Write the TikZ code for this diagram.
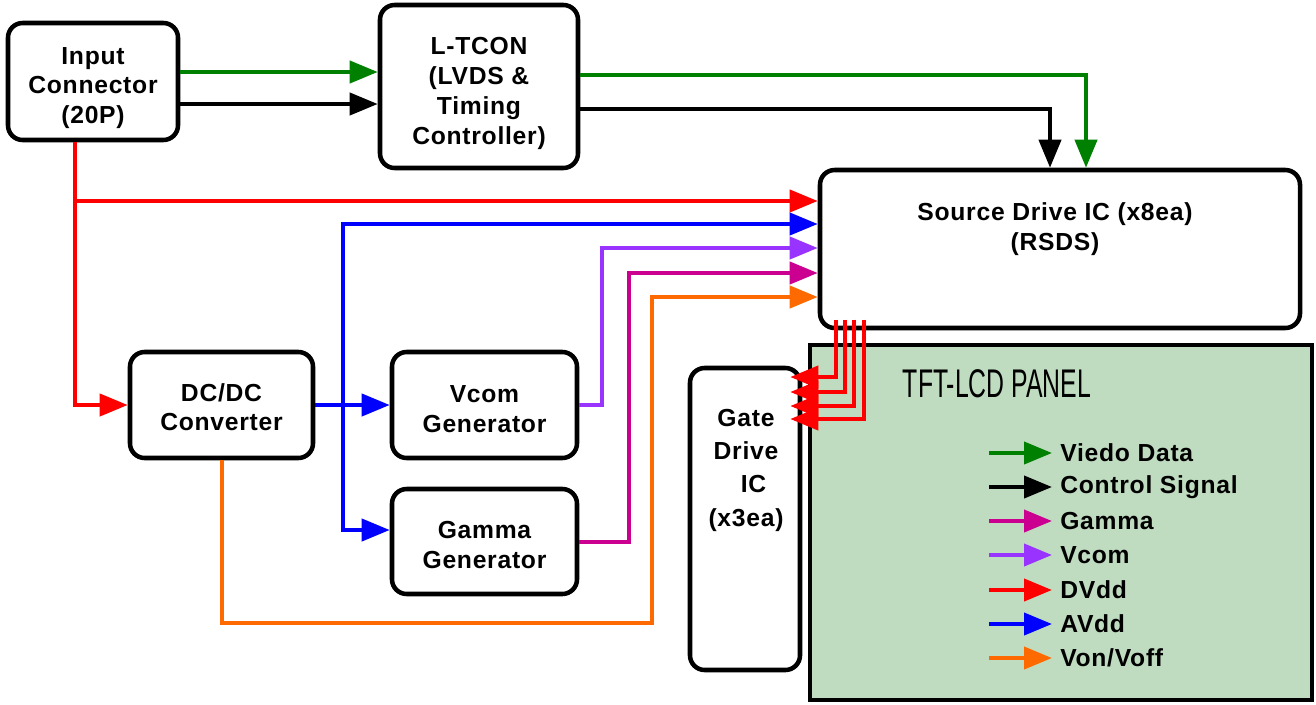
\documentclass[tikz,border=0pt]{standalone}
\usepackage{fontspec}
\setmainfont{Liberation Sans}
\usetikzlibrary{arrows.meta}
\definecolor{cgreen}{HTML}{008000}
\definecolor{cred}{HTML}{FF0000}
\definecolor{cblue}{HTML}{0000FF}
\definecolor{cpurple}{HTML}{9933FF}
\definecolor{cmag}{HTML}{CC0090}
\definecolor{corange}{HTML}{FF6A00}
\definecolor{panelg}{HTML}{C0DCC0}
\newcommand{\myfont}{\bfseries\addfontfeature{LetterSpace=3}\fontsize{18.5}{22}\selectfont}
\begin{document}
\begin{tikzpicture}[x=0.75pt,y=-0.75pt,
  box/.style={draw, line width=3.4pt, rounded corners=11pt, fill=white, inner sep=0pt},
  conn/.style={line width=3pt, -{Triangle[length=21pt,width=16.5pt]}},
  txt/.style={align=center, inner sep=0pt, font=\myfont},
  leg/.style={anchor=west, inner sep=0pt, font=\myfont}]
\useasboundingbox (0,0) rectangle (1316,704);
\fill[white] (0,0) rectangle (1316,704);

% panel
\node[draw, line width=3.4pt, fill=panelg, minimum width=376.5pt, minimum height=266.25pt, inner sep=0pt] (panel) at (1061,522.5) {};
\node[inner sep=0pt] (ptitle) at (997,384) {\scalebox{0.62}[1]{\fontsize{30}{32}\selectfont TFT-LCD PANEL}};

% boxes
\node[box, minimum width=127.5pt, minimum height=87.75pt] (inp) at (93,81.5) {};
\node[txt] (inpt) at (93,88) {Input\\Connector\\(20P)};
\node[box, minimum width=148.5pt, minimum height=122.25pt] (ltc) at (479,86.5) {};
\node[txt, font=\bfseries\addfontfeature{LetterSpace=3}\fontsize{18.5}{22.5}\selectfont] (ltct) at (479,93) {L-TCON\\(LVDS \&\\Timing\\Controller)};
\node[box, minimum width=360pt, minimum height=118.5pt] (src) at (1060,249) {};
\node[txt] (srct) at (1055,229) {Source Drive IC (x8ea)\\(RSDS)};
\node[box, minimum width=137.25pt, minimum height=79.5pt] (dcdc) at (221.5,405) {};
\node[txt] (dcdct) at (221.5,407.5) {DC/DC\\Converter};
\node[box, minimum width=138.75pt, minimum height=79.5pt] (vcom) at (484.5,405) {};
\node[txt] (vcomt) at (484.5,409) {Vcom\\Generator};
\node[box, minimum width=138.75pt, minimum height=78.75pt] (gam) at (484.5,541.5) {};
\node[txt] (gamt) at (484.5,545) {Gamma\\Generator};
\node[box, minimum width=82.5pt, minimum height=226.5pt] (gate) at (745,519) {};
\node[txt, font=\bfseries\addfontfeature{LetterSpace=3}\fontsize{18.5}{25}\selectfont] (gatet) at (746,470) {Gate\\Drive\\\ \ IC\\(x3ea)};

% connectors
\draw[conn,cgreen] (inp.east |- 0,72) -- (ltc.west |- 0,72);
\draw[conn,black] (inp.east |- 0,104) -- (ltc.west |- 0,104);
\draw[conn,cgreen] (ltc.east |- 0,75) -| (src.north -| 1086,0);
\draw[conn,black] (ltc.east |- 0,109) -| (src.north -| 1050,0);

\coordinate (rj) at (75,201);
\draw[conn,cred] (inp.south -| rj) |- (dcdc.west);
\draw[conn,cred] (rj) -- (src.west |- rj);

\coordinate (bj) at (343,224);
\coordinate (bb) at (343,530);
\draw[conn,cblue] (dcdc.east) -- (vcom.west);
\draw[line width=3pt,cblue,{Triangle[length=21pt,width=16.5pt]}-{Triangle[length=21pt,width=16.5pt]}]
  (src.west |- bj) -- (bj) -- (bb) -- (gam.west |- bb);

\coordinate (pj) at (602,248);
\draw[conn,cpurple] (vcom.east) -| (pj) -- (src.west |- pj);
\coordinate (mj) at (629,273);
\draw[conn,cmag] (gam.east) -| (mj) -- (src.west |- mj);
\coordinate (ob) at (652,623);
\coordinate (ot) at (652,297);
\draw[conn,corange] (dcdc.south) |- (ob) -- (ot) -- (src.west |- ot);

% red to gate
\coordinate (gt) at ([xshift=-9pt]gate.east);
\foreach \xx/\yy in {836/377, 845/392, 854/406, 864/419}{
  \draw[conn,cred,shorten <=-8pt] (src.south -| \xx,0) |- (gt |- 0,\yy);
}

% legend
\node[leg] (l1) at (1060,453) {Viedo Data};
\node[leg] (l2) at (1060,487) {Control Signal};
\node[leg] (l3) at (1060,521) {Gamma};
\node[leg] (l4) at (1060,555) {Vcom};
\node[leg] (l5) at (1060,590) {DVdd};
\node[leg] (l6) at (1060,624) {AVdd};
\node[leg] (l7) at (1060,658) {Von/Voff};
\foreach \n/\c in {l1/cgreen, l2/black, l3/cmag, l4/cpurple, l5/cred, l6/cblue, l7/corange}{
  \coordinate (\n s) at (989,0);
  \draw[conn,\c,shorten >=6pt] (\n s |- \n.west) -- (\n.west);
}
\end{tikzpicture}
\end{document}
